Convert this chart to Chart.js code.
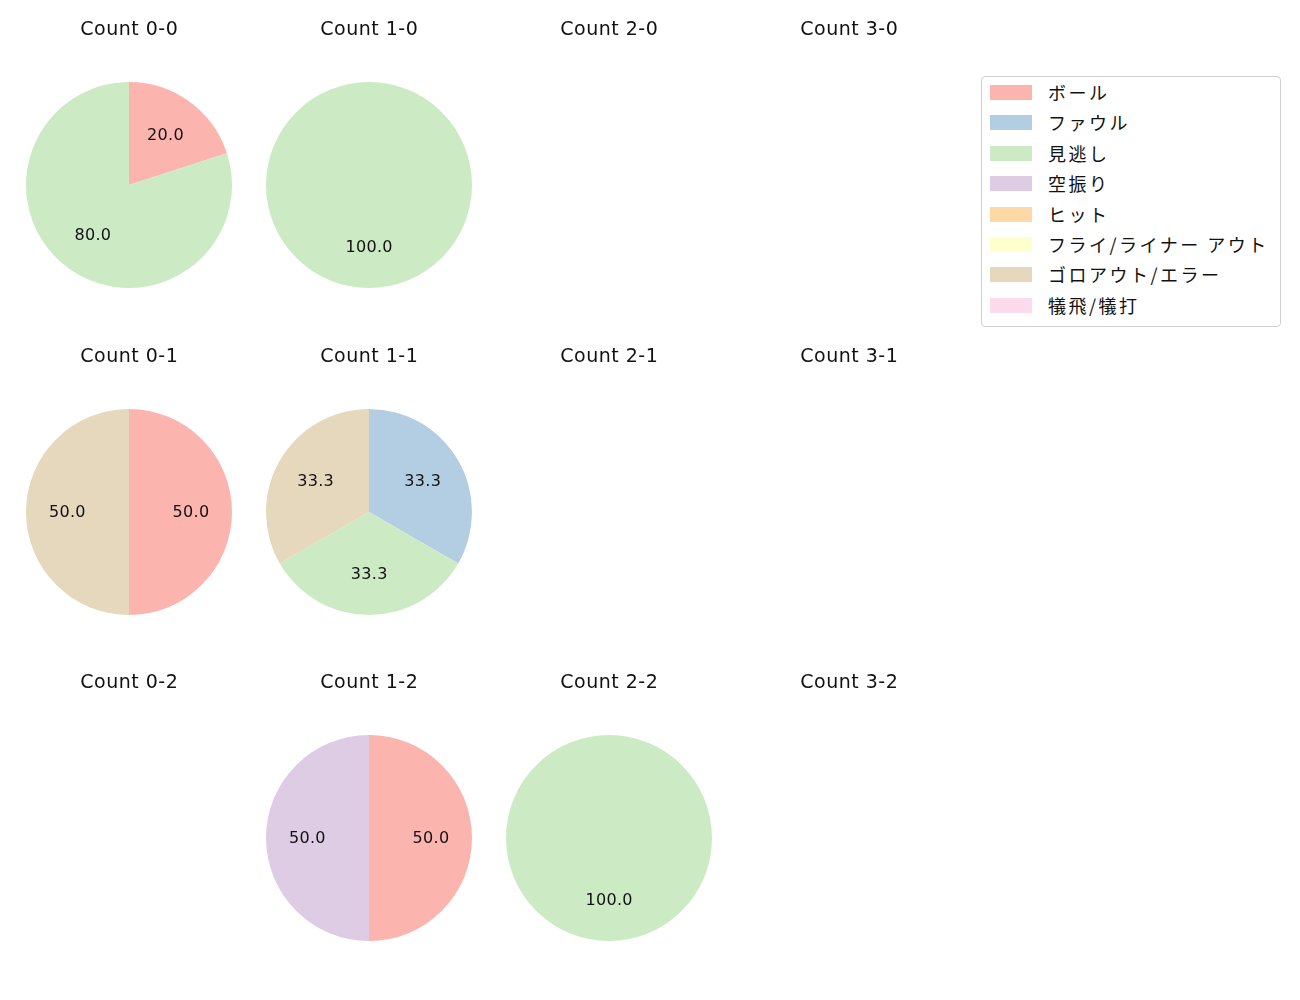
<!DOCTYPE html>
<html>
<head>
<meta charset="utf-8">
<script src="https://cdn.jsdelivr.net/npm/chart.js@4.4.1/dist/chart.umd.min.js"></script>
<style>
  body { margin: 0; background: #fff; }
  #wrap { position: relative; width: 1300px; height: 1000px; background: #fff; font-family: "Noto Sans CJK JP", "Noto Sans", sans-serif; }
  #wrap canvas { position: absolute; }
  #legend { position: absolute; left: 981px; top: 76px; width: 298px; height: 249px; border: 1px solid #d0d0d0; border-radius: 4px; box-sizing: content-box; }
  .row { position: absolute; left: 0; height: 30px; }
  .sw { position: absolute; left: 8px; top: 8px; width: 42px; height: 15px; }
  .lt { position: absolute; left: 66px; top: 0; font-size: 18px; letter-spacing: 2.5px; color: #111; white-space: nowrap; line-height: 30px; }
</style>
</head>
<body>
<div id="wrap"><div id="legend"></div></div>
<script>
const categories = ['ボール', 'ファウル', '見逃し', '空振り', 'ヒット', 'フライ/ライナー アウト', 'ゴロアウト/エラー', '犠飛/犠打'];
const colors = ['#fbb4ae', '#b3cde3', '#ccebc5', '#decbe4', '#fed9a6', '#ffffcc', '#e5d8bd', '#fddaec'];
const countLabels = ['0-0', '1-0', '2-0', '3-0', '0-1', '1-1', '2-1', '3-1', '0-2', '1-2', '2-2', '3-2'];
// percentages per category, one array per count
const count00 = [20, 0, 80, 0, 0, 0, 0, 0];
const count10 = [0, 0, 100, 0, 0, 0, 0, 0];
const count20 = [];
const count30 = [];
const count01 = [50, 0, 0, 0, 0, 0, 50, 0];
const count11 = [0, 33.3, 33.3, 0, 0, 0, 33.3, 0];
const count21 = [];
const count31 = [];
const count02 = [];
const count12 = [50, 0, 0, 50, 0, 0, 0, 0];
const count22 = [0, 0, 100, 0, 0, 0, 0, 0];
const count32 = [];
const allCounts = [count00, count10, count20, count30, count01, count11, count21, count31, count02, count12, count22, count32];

const colX = [129, 369, 609, 849];
const rowY = [185, 512, 838];
const titleOffset = 155; // title center above pie center
const R = 103;

const wrap = document.getElementById('wrap');

const titleAndLabels = {
  id: 'titleAndLabels',
  afterDraw(chart, args, opts) {
    const ctx = chart.ctx;
    ctx.save();
    ctx.fillStyle = '#111';
    ctx.textAlign = 'center';
    ctx.textBaseline = 'middle';
    ctx.font = '19px "DejaVu Sans", sans-serif';
    ctx.letterSpacing = '0.5px';
    ctx.fillText(opts.title, chart.width / 2 + 0.3, opts.titleY);
    ctx.font = '16px "DejaVu Sans", sans-serif';
    ctx.letterSpacing = '0.3px';
    const meta = chart.getDatasetMeta(0);
    const data = chart.data.datasets[0].data;
    meta.data.forEach((arc, i) => {
      if (!data[i]) return;
      const mid = (arc.startAngle + arc.endAngle) / 2;
      const r = arc.outerRadius * 0.6;
      ctx.fillText(data[i].toFixed(1), arc.x + Math.cos(mid) * r + 0.2, arc.y + Math.sin(mid) * r + 1);
    });
    ctx.restore();
  }
};

allCounts.forEach((vals, k) => {
  const col = k % 4, row = Math.floor(k / 4);
  const cx = colX[col], cy = rowY[row];
  const w = 240, padTop = 75;
  const top = cy - R - padTop;
  const h = padTop + 2 * R + 2;
  const cv = document.createElement('canvas');
  cv.width = w; cv.height = h;
  cv.style.left = (cx - w / 2) + 'px';
  cv.style.top = top + 'px';
  cv.style.width = w + 'px';
  cv.style.height = h + 'px';
  wrap.appendChild(cv);
  new Chart(cv.getContext('2d'), {
    type: 'pie',
    data: {
      labels: vals.length ? categories : [],
      datasets: [{
        data: vals,
        backgroundColor: colors,
        borderWidth: 0
      }]
    },
    options: {
      responsive: false,
      animation: false,
      layout: { padding: { top: padTop, bottom: 2, left: (w - 2 * R) / 2, right: (w - 2 * R) / 2 } },
      plugins: {
        legend: { display: false },
        tooltip: { enabled: false },
        titleAndLabels: { title: 'Count ' + countLabels[k], titleY: cy - titleOffset - top }
      }
    },
    plugins: [titleAndLabels]
  });
});

const legend = document.getElementById('legend');
categories.forEach((name, i) => {
  const r = document.createElement('div');
  r.className = 'row';
  r.style.top = (0 + i * 30.4) + 'px';
  r.style.width = '298px';
  r.innerHTML = '<span class="sw" style="background:' + colors[i] + '"></span><span class="lt">' + name + '</span>';
  legend.appendChild(r);
});
</script>
</body>
</html>
